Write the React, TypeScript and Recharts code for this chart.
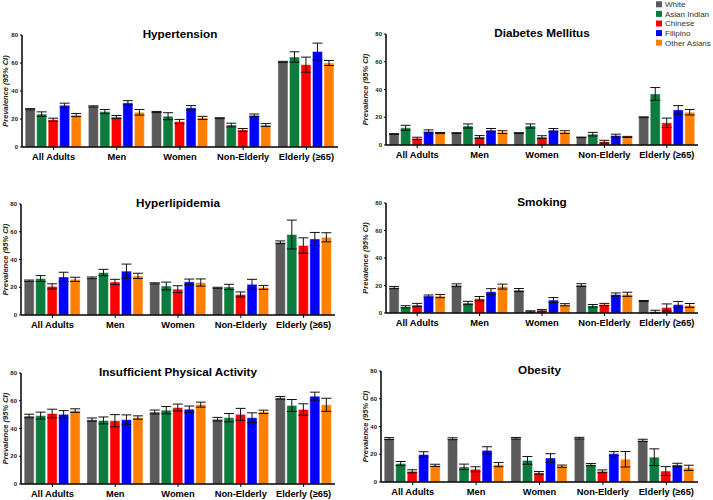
import { BarChart, Bar, XAxis, YAxis, ErrorBar } from 'recharts';

const categories = ['All Adults', 'Men', 'Women', 'Non-Elderly', 'Elderly (≥65)'];
const groups = ['White', 'Asian Indian', 'Chinese', 'Filipino', 'Other Asians'];
const colors = ['#5a5a5a', '#0c7b3e', '#ff0000', '#0000ff', '#ff8000'];
const yTicks = [0, 20, 40, 60, 80];

// rows = categories, columns = groups
const hypertensionValues = [
  [27, 23.5, 19.5, 29.8, 22.8],
  [29, 25.3, 21.4, 31.5, 24.8],
  [25, 22, 18.2, 28, 20.8],
  [20.6, 15.7, 12.2, 22.6, 15.7],
  [60.8, 64.3, 58.8, 68.2, 60],
];
const hypertensionErrors = [
  [0.4, 1.6, 1.1, 1.5, 1.1],
  [0.4, 1.5, 1.1, 1.6, 2],
  [0.4, 2.5, 1.5, 1.6, 1.1],
  [0.3, 1.3, 1, 1, 1],
  [0.4, 3.7, 5.4, 6, 1.8],
];

const diabetesValues = [
  [7.9, 12.4, 4.8, 9.8, 8.6],
  [8.6, 13.7, 5.8, 10.7, 9.3],
  [8.6, 13.7, 5.7, 10.7, 9.3],
  [5.5, 7.8, 2.4, 6.8, 5.8],
  [20, 36.8, 16, 25.3, 23.6],
];
const diabetesErrors = [
  [0.3, 1.8, 0.8, 1.1, 0.4],
  [0.3, 1.5, 1, 1.2, 1],
  [0.3, 1.5, 1, 1.2, 1],
  [0.2, 1.3, 1, 1, 0.4],
  [0.3, 4.6, 3.4, 3.1, 2],
];

const lipidValues = [
  [24.7, 26.3, 20.6, 27.4, 25.7],
  [26.8, 30.6, 23.8, 31.6, 28.2],
  [22.8, 20.9, 18.6, 23.9, 23.4],
  [19.6, 20.2, 14.8, 22.1, 19.9],
  [52.4, 58, 50.1, 54.8, 56],
];
const lipidErrors = [
  [0.5, 2.1, 1.9, 3.4, 1.5],
  [0.6, 2.3, 1.9, 5.1, 1.9],
  [0.4, 2.8, 2.5, 2, 2.6],
  [0.4, 1.9, 1.8, 3.6, 1.4],
  [1, 10.4, 5.5, 4.7, 3.3],
];

const smokingValues = [
  [18.5, 4.5, 5.8, 12.3, 12.3],
  [20.2, 7.3, 10.4, 15.5, 19.2],
  [16.7, 1.2, 1.9, 9.4, 6],
  [20.3, 5.2, 6.2, 13.4, 13.6],
  [8.7, 1, 4, 6.1, 5.5],
];
const smokingErrors = [
  [0.8, 0.8, 1.2, 0.8, 1.2],
  [1, 1.2, 1.6, 2.2, 1.8],
  [1.1, 0.4, 0.6, 1.8, 0.8],
  [1, 1, 0.8, 1.2, 1.5],
  [0.4, 1, 2.6, 2.3, 1.4],
];

const activityValues = [
  [49, 49.3, 50.8, 50.2, 52.9],
  [46.4, 45.8, 45.6, 46.4, 47.9],
  [51.9, 53.2, 55.1, 53.9, 57.2],
  [46.7, 47.8, 50.2, 47.8, 52],
  [62.1, 56.6, 53.7, 63.3, 57.1],
];
const activityErrors = [
  [1.3, 2.5, 3.1, 2.7, 1.3],
  [1.2, 2.5, 4.4, 3.4, 1.2],
  [1.4, 2.6, 2.5, 2.3, 1.8],
  [1.3, 3, 4.3, 3.5, 1.2],
  [1, 4.3, 4.1, 2.9, 4.7],
];

const obesityValues = [
  [31.3, 13.3, 7.7, 19.8, 12],
  [31.2, 10.9, 9.2, 22.8, 12.5],
  [31.5, 15.6, 6.6, 17.3, 11.4],
  [31.6, 12.5, 7.7, 20.4, 16.4],
  [30, 17.9, 7.9, 12.3, 10.2],
];
const obesityErrors = [
  [0.7, 1.5, 1.1, 2, 0.8],
  [0.7, 2, 1.8, 2.6, 1.5],
  [0.6, 2.8, 1, 3.1, 0.8],
  [0.6, 0.8, 1, 1.5, 5.6],
  [0.8, 6, 3.2, 1.2, 1.9],
];

const panels = [
  { title: 'Hypertension', values: hypertensionValues, errors: hypertensionErrors },
  { title: 'Diabetes Mellitus', values: diabetesValues, errors: diabetesErrors },
  { title: 'Hyperlipidemia', values: lipidValues, errors: lipidErrors },
  { title: 'Smoking', values: smokingValues, errors: smokingErrors },
  { title: 'Insufficient Physical Activity', values: activityValues, errors: activityErrors },
  { title: 'Obesity', values: obesityValues, errors: obesityErrors },
];

// plot area of each panel in page pixels
const boxes = [
  { x: 22, y: 35, w: 316, h: 112, labelX: 5 },
  { x: 386, y: 34, w: 312, h: 111, labelX: 365 },
  { x: 21, y: 204, w: 314, h: 111, labelX: 5 },
  { x: 386, y: 203, w: 312, h: 110, labelX: 365 },
  { x: 21, y: 373, w: 314, h: 111, labelX: 5 },
  { x: 381, y: 371, w: 317, h: 111, labelX: 365 },
];

const FONT = "'Liberation Sans', Arial, Helvetica, sans-serif";
const YW = 30;
const XH = 26;
const TOP = 6;
const RIGHT = 4;

function toRows(values: number[][], errors: number[][]) {
  return categories.map((c, i) => {
    const row: Record<string, string | number> = { cat: c };
    groups.forEach((_, j) => {
      row['v' + j] = values[i][j];
      row['e' + j] = errors[i][j];
    });
    return row;
  });
}

interface Box {
  x: number;
  y: number;
  w: number;
  h: number;
  labelX: number;
}

function Panel({ values, errors, box }: { values: number[][]; errors: number[][]; box: Box }) {
  const data = toRows(values, errors);
  return (
    <div style={{ position: 'absolute', left: box.x - YW, top: box.y - TOP }}>
      <BarChart
        width={box.w + YW + RIGHT}
        height={box.h + TOP + XH}
        data={data}
        margin={{ top: TOP, right: RIGHT, left: 0, bottom: 0 }}
        barCategoryGap="5%"
        barGap={1.5}
      >
        <XAxis
          dataKey="cat"
          height={XH}
          interval={0}
          tickSize={3}
          tickMargin={3}
          tick={{ fill: '#000', fontSize: 9.3, fontWeight: 700 }}
          axisLine={{ stroke: '#000', strokeWidth: 1.5 }}
          tickLine={{ stroke: '#000', strokeWidth: 1 }}
        />
        <YAxis
          width={YW}
          domain={[0, 80]}
          ticks={yTicks}
          tickSize={2}
          tickMargin={2}
          tick={{ fill: '#222', fontSize: 6, fontWeight: 700 }}
          axisLine={{ stroke: '#000', strokeWidth: 1.5 }}
          tickLine={{ stroke: '#000', strokeWidth: 1 }}
        />
        {groups.map((g, j) => (
          <Bar
            key={g}
            dataKey={'v' + j}
            fill={colors[j]}
            stroke="rgba(255,255,255,0.45)"
            strokeWidth={1}
            isAnimationActive={false}
          >
            <ErrorBar dataKey={'e' + j} width={5} stroke="#111" strokeWidth={1} isAnimationActive={false} />
          </Bar>
        ))}
      </BarChart>
    </div>
  );
}

export default function App() {
  return (
    <div
      style={{
        position: 'absolute',
        left: 0,
        top: 0,
        width: 713,
        height: 500,
        background: '#fff',
        fontFamily: FONT,
      }}
    >
      {panels.map((p, i) => (
        <Panel key={p.title} values={p.values} errors={p.errors} box={boxes[i]} />
      ))}
      <svg
        width={713}
        height={500}
        style={{ position: 'absolute', left: 0, top: 0, pointerEvents: 'none' }}
        fontFamily={FONT}
      >
        {panels.map((p, i) => {
          const b = boxes[i];
          const cy = b.y + b.h / 2;
          return (
            <g key={p.title}>
              <text x={b.x + b.w / 2} y={b.y + 3} textAnchor="middle" fontSize={11.7} fontWeight={700} fill="#000">
                {p.title}
              </text>
              <text
                x={b.labelX}
                y={cy}
                transform={`rotate(-90 ${b.labelX} ${cy})`}
                textAnchor="middle"
                dominantBaseline="central"
                fontSize={7.5}
                fontWeight={700}
                fontStyle="italic"
                fill="#222"
              >
                Prevalence (95% CI)
              </text>
            </g>
          );
        })}
        {/* Legend */}
        {groups.map((g, j) => {
          const cy = 4.3 + j * 9.6;
          return (
            <g key={g}>
              <rect x={656} y={cy - 3} width={6} height={6} fill={colors[j]} />
              <text x={665} y={cy + 2.9} fontSize={8} fill="#333">
                {g}
              </text>
            </g>
          );
        })}
      </svg>
    </div>
  );
}
